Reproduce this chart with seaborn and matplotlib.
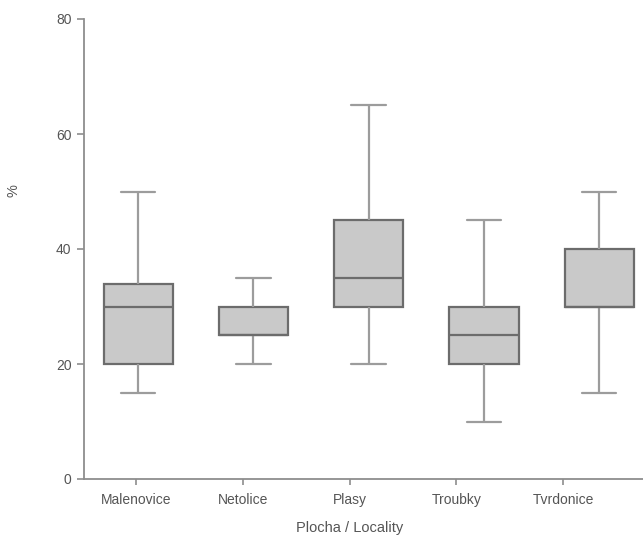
import numpy as np
import pandas as pd
import matplotlib
matplotlib.use("Agg")
import matplotlib.pyplot as plt
import seaborn as sns

# Five-number summaries per locality: min, Q1, median, Q3, max (%)
localities = ["Malenovice", "Netolice", "Plasy", "Troubky", "Tvrdonice"]
malenovice = [15, 20, 30, 34, 50]
netolice = [20, 25, 25, 30, 35]
plasy = [20, 30, 35, 45, 65]
troubky = [10, 20, 25, 30, 45]
tvrdonice = [15, 30, 30, 40, 50]
y_ticks = [0, 20, 40, 60, 80]

series = [malenovice, netolice, plasy, troubky, tvrdonice]
df = pd.DataFrame({
    "locality": np.repeat(localities, [len(s) for s in series]),
    "value": np.concatenate(series),
})

sns.set_style("white")
plt.rcParams["font.family"] = ["Liberation Sans", "DejaVu Sans"]

text_col = "#555555"
spine_col = "#8e8e8e"
edge_col = "#6c6c6c"
whisk_col = "#9c9c9c"

fig = plt.figure(figsize=(6.43, 5.38), dpi=100)
ax = fig.add_axes([84 / 643, 59 / 538, 559 / 643, 460 / 538])

sns.boxplot(
    data=df, x="locality", y="value", order=localities, ax=ax,
    whis=(0, 100), width=0.6, color="#c9c9c9", saturation=1,
    linecolor=edge_col, linewidth=1.6, fliersize=0,
    whiskerprops=dict(color=whisk_col, linewidth=1.6),
    capprops=dict(color=whisk_col, linewidth=1.6),
    medianprops=dict(color=edge_col, linewidth=1.6),
)

ax.set_xlim(-0.47, 4.38)
ax.set_ylim(0, 80)
ax.set_yticks(y_ticks)

# category labels sit slightly compressed along the axis
tick_pos = np.arange(len(localities)) * 0.927 - 0.02
ax.set_xticks(tick_pos, labels=localities)

for side in ["top", "right"]:
    ax.spines[side].set_visible(False)
for side in ["left", "bottom"]:
    ax.spines[side].set_color(spine_col)
    ax.spines[side].set_linewidth(1.3)

ax.tick_params(axis="both", which="both", direction="out", length=5,
               width=1.2, color=spine_col, labelcolor=text_col,
               labelsize=10, pad=4, left=True, bottom=True)
ax.tick_params(axis="x", length=4, pad=6)

ax.set_xlabel("Plocha / Locality", fontsize=10.5, color=text_col)
ax.set_ylabel("%", fontsize=10.5, color=text_col)
ax.xaxis.set_label_coords(0.476, -0.092)
ax.yaxis.set_label_coords(-0.114, 0.628)

fig.savefig("out.png", dpi=100)
